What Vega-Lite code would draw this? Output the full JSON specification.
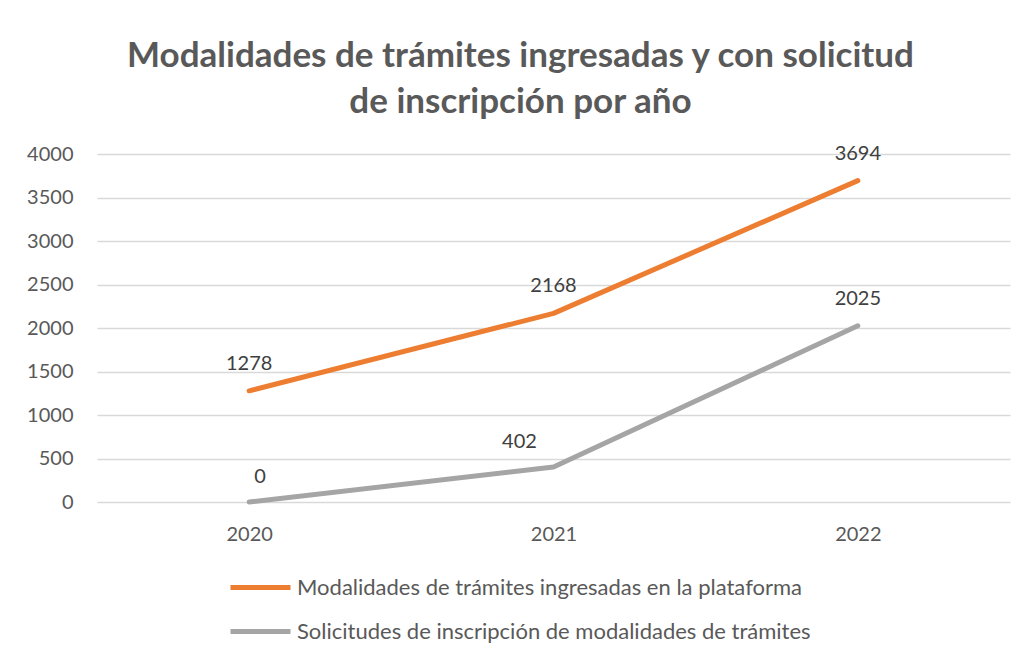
{
  "$schema": "https://vega.github.io/schema/vega-lite/v6.json",
  "autosize": {"type": "none"},
  "width": 913,
  "height": 348,
  "padding": {"left": 97, "top": 154, "right": 16, "bottom": 158},
  "background": "white",
  "title": {
    "text": ["Modalidades de trámites ingresadas y con solicitud", "de inscripción por año"],
    "font": "Lato",
    "fontSize": 35,
    "fontWeight": "bold",
    "color": "#595959",
    "anchor": "middle",
    "dx": -33,
    "lineHeight": 46,
    "offset": 24
  },
  "config": {
    "view": {"stroke": null},
    "font": "Lato",
    "axis": {"labelFont": "Lato", "labelFontSize": 20, "labelColor": "#595959", "domain": false, "ticks": false, "title": null}
  },
  "data": {
    "values": [
      {"year": "2020", "series": "Modalidades de trámites ingresadas en la plataforma", "value": 1278},
      {"year": "2021", "series": "Modalidades de trámites ingresadas en la plataforma", "value": 2168},
      {"year": "2022", "series": "Modalidades de trámites ingresadas en la plataforma", "value": 3694},
      {"year": "2020", "series": "Solicitudes de inscripción de modalidades de trámites", "value": 0},
      {"year": "2021", "series": "Solicitudes de inscripción de modalidades de trámites", "value": 402},
      {"year": "2022", "series": "Solicitudes de inscripción de modalidades de trámites", "value": 2025}
    ]
  },
  "encoding": {
    "x": {"field": "year", "type": "ordinal", "scale": {"type": "point", "padding": 0.5},
          "axis": {"labelAngle": 0, "labelPadding": 22, "grid": false}},
    "y": {"field": "value", "type": "quantitative", "scale": {"domain": [0, 4000]},
          "axis": {"values": [0, 500, 1000, 1500, 2000, 2500, 3000, 3500, 4000], "format": "d", "labelPadding": 24, "gridColor": "#D9D9D9", "gridWidth": 1.5}}
  },
  "layer": [
    {
      "mark": {"type": "line", "strokeWidth": 5, "strokeCap": "round", "strokeJoin": "round"},
      "encoding": {
        "color": {"field": "series", "type": "nominal",
          "scale": {"domain": ["Modalidades de trámites ingresadas en la plataforma", "Solicitudes de inscripción de modalidades de trámites"], "range": ["#ED7D31", "#A5A5A5"]},
          "legend": {"orient": "none", "legendX": 131, "legendY": 401, "direction": "vertical", "title": null,
            "symbolType": "stroke", "symbolSize": 3600, "symbolStrokeWidth": 5,
            "labelFont": "Lato", "labelFontSize": 22, "labelColor": "#595959", "labelOffset": 4, "rowPadding": -15, "labelLimit": 800}
        }
      }
    },
    {
      "transform": [{"filter": "datum.value != 402 && datum.value != 0"}],
      "mark": {"type": "text", "dy": -27, "fontSize": 20, "color": "#404040", "font": "Lato"},
      "encoding": {"text": {"field": "value", "type": "quantitative", "format": "d"}}
    },
    {
      "transform": [{"filter": "datum.value == 402"}],
      "mark": {"type": "text", "dy": -25, "dx": -34, "fontSize": 20, "color": "#404040", "font": "Lato"},
      "encoding": {"text": {"field": "value", "type": "quantitative", "format": "d"}}
    },
    {
      "transform": [{"filter": "datum.value == 0"}],
      "mark": {"type": "text", "dy": -25, "dx": 11, "fontSize": 20, "color": "#404040", "font": "Lato"},
      "encoding": {"text": {"field": "value", "type": "quantitative", "format": "d"}}
    }
  ]
}
